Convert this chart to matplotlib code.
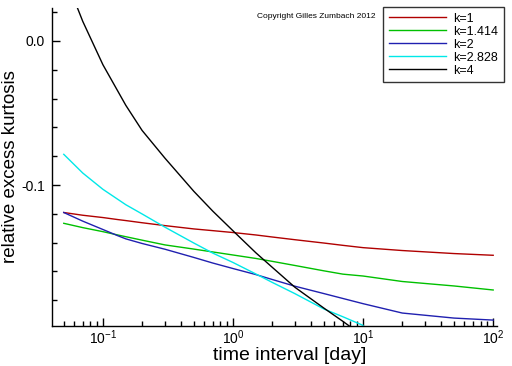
import matplotlib
matplotlib.use("Agg")
import matplotlib.pyplot as plt
from matplotlib.ticker import LogLocator, MultipleLocator, FixedLocator, FuncFormatter, NullFormatter

plt.rcParams['font.family'] = ['Liberation Sans', 'DejaVu Sans']
plt.rcParams['axes.unicode_minus'] = False
plt.rcParams['mathtext.default'] = 'regular'

t = [0.05, 0.07, 0.1, 0.13, 0.15, 0.2, 0.3, 0.5, 0.7, 1, 1.5, 2, 3, 5, 7, 10, 20, 50, 100]
k1 = [-0.1191, -0.1210, -0.1226, -0.1240, -0.1247, -0.1262, -0.1282, -0.1305, -0.1317, -0.1330,
      -0.1347, -0.1361, -0.1380, -0.1403, -0.1419, -0.1435, -0.1455, -0.1476, -0.1488]
k1414 = [-0.1266, -0.1296, -0.1324, -0.1347, -0.1359, -0.1383, -0.1416, -0.1445, -0.1465, -0.1486,
         -0.1510, -0.1530, -0.1559, -0.1596, -0.1619, -0.1632, -0.1670, -0.1701, -0.1729]
k2 = [-0.1191, -0.1251, -0.1309, -0.1352, -0.1374, -0.1406, -0.1446, -0.1503, -0.1542, -0.1580,
      -0.1622, -0.1656, -0.1703, -0.1754, -0.1788, -0.1824, -0.1889, -0.1924, -0.1938]
t_c = [0.05, 0.07, 0.1, 0.15, 0.2, 0.3, 0.5, 0.7, 1, 1.5, 2, 3, 5, 7, 10]
k2828 = [-0.0787, -0.0917, -0.1030, -0.1137, -0.1201, -0.1293, -0.1403, -0.1473, -0.1538,
         -0.1618, -0.1676, -0.1755, -0.1861, -0.1915, -0.1975]
t_k = [0.05, 0.07, 0.1, 0.15, 0.2, 0.3, 0.5, 0.7, 1, 1.5, 2, 3, 5, 7, 8]
k4 = [0.0469, 0.0136, -0.0165, -0.0447, -0.0621, -0.0814, -0.1044, -0.1182, -0.1318,
      -0.1471, -0.1571, -0.1711, -0.1855, -0.1947, -0.1985]

labels = ['k=1', 'k=1.414', 'k=2', 'k=2.828', 'k=4']
colors = ['#b00000', '#00c000', '#2020b0', '#00e8e8', '#000000']

fig = plt.figure(figsize=(5.12, 3.66), dpi=100)
ax = fig.add_axes([52/512, 1-326/366, (497-52)/512, (326-8)/366])

series = [(t, k1), (t, k1414), (t, k2), (t_c, k2828), (t_k, k4)]
for (x, y), lab, c in zip(series, labels, colors):
    ax.plot(x, y, color=c, lw=1.0, label=lab)

ax.set_xscale('log')
ax.set_xlim(0.0406, 107)
ax.set_ylim(-0.1979, 0.0229)

ax.spines['top'].set_visible(False)
ax.spines['right'].set_visible(False)
for s in ['left', 'bottom']:
    ax.spines[s].set_linewidth(1.0)

ax.yaxis.set_major_locator(FixedLocator([0.0, -0.1]))
ax.yaxis.set_major_formatter(FuncFormatter(lambda v, p: f"{v:.1f}" if abs(v) > 1e-9 else "0.0"))
ax.yaxis.set_minor_locator(MultipleLocator(0.02))
ax.xaxis.set_major_locator(LogLocator(base=10, numticks=10))
ax.xaxis.set_minor_locator(LogLocator(base=10, subs=range(2, 10), numticks=20))
ax.xaxis.set_minor_formatter(NullFormatter())

ax.tick_params(which='major', direction='in', length=6, width=1, labelsize=10)
ax.tick_params(axis='x', which='major', pad=1.5)
ax.tick_params(axis='y', which='major', pad=5)
ax.tick_params(which='minor', direction='in', length=3.5, width=1)

ax.set_xlabel('time interval [day]', fontsize=14)
ax.set_ylabel('relative excess kurtosis', fontsize=13.5)
ax.xaxis.set_label_coords((290 - 52) / 445, (326 - 355) / 318)
ax.xaxis.label.set_va('center')
ax.yaxis.set_label_coords((11 - 52) / 445, 0.5)
ax.yaxis.label.set_va('center')

leg = ax.legend(loc='upper left', bbox_to_anchor=(383/512, 1-7/366),
                bbox_transform=fig.transFigure, fontsize=9, frameon=True,
                fancybox=False, handlelength=4.6, handletextpad=0.6,
                labelspacing=0.08, borderpad=0.45, borderaxespad=0)
leg.get_frame().set_edgecolor('black')
leg.get_frame().set_linewidth(1.0)

fig.text(257/512, 1-16/366, 'Copyright Gilles Zumbach 2012', fontsize=6, va='center', ha='left')

fig.savefig('out.png', dpi=100)
